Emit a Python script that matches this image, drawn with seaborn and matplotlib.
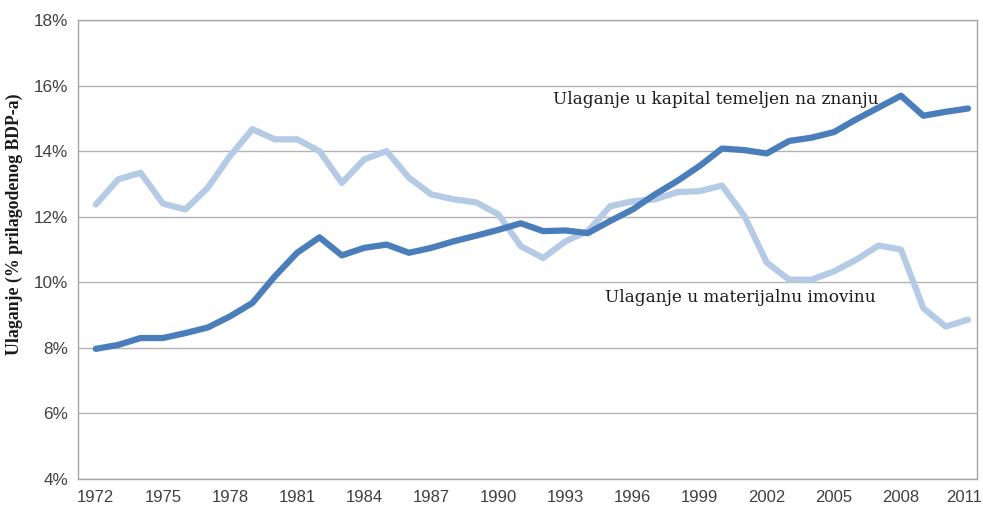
import numpy as np
import pandas as pd
import seaborn as sns
import matplotlib.pyplot as plt
import matplotlib.transforms as mtransforms
from matplotlib.ticker import FixedLocator, PercentFormatter

years = list(range(1972, 2012))

# ulaganje u kapital temeljen na znanju (% prilagodenog BDP-a)
knowledge = [7.97, 8.09, 8.30, 8.30, 8.45, 8.62, 8.96, 9.37, 10.18, 10.90,
             11.37, 10.82, 11.05, 11.15, 10.90, 11.05, 11.25, 11.42, 11.60, 11.80,
             11.56, 11.58, 11.50, 11.87, 12.22, 12.68, 13.09, 13.55, 14.08, 14.03,
             13.93, 14.31, 14.41, 14.58, 14.97, 15.33, 15.69, 15.08, 15.20, 15.30]

# ulaganje u materijalnu imovinu
tangible = [12.37, 13.14, 13.34, 12.40, 12.22, 12.88, 13.85, 14.67, 14.36, 14.36,
            14.00, 13.03, 13.75, 14.00, 13.19, 12.68, 12.53, 12.44, 12.07, 11.10,
            10.74, 11.25, 11.56, 12.32, 12.47, 12.53, 12.75, 12.78, 12.95, 12.02,
            10.60, 10.08, 10.08, 10.33, 10.69, 11.12, 11.00, 9.21, 8.65, 8.86]

label_knowledge = "Ulaganje u kapital temeljen na znanju"
label_tangible = "Ulaganje u materijalnu imovinu"

df = pd.DataFrame({
    "Godina": years * 2,
    "Vrijednost": knowledge + tangible,
    "Serija": [label_knowledge] * len(years) + [label_tangible] * len(years),
})

sns.set_style("white")

fig = plt.figure(figsize=(9.83, 5.07), dpi=100)
ax = fig.add_axes([0.0793, 0.0552, 0.9146, 0.9054])

sns.lineplot(
    data=df, x="Godina", y="Vrijednost", hue="Serija",
    palette={label_knowledge: "#4a7ebb", label_tangible: "#b5cbe5"},
    hue_order=[label_tangible, label_knowledge],
    linewidth=4.5, legend=False, ax=ax,
)

ax.set_xlim(1971.2, 2011.4)
ax.set_ylim(4, 18)
ax.set_yticks(np.arange(4, 19, 2))
ax.yaxis.set_major_formatter(PercentFormatter(decimals=0))
ax.set_xticks(list(range(1972, 2012, 3)))
ax.xaxis.set_minor_locator(FixedLocator(np.arange(1971.33, 2011.4, 1 / 3)))

ax.grid(axis="y", color="#b3b3b3", linewidth=1.0)
ax.set_axisbelow(True)
for s in ax.spines.values():
    s.set_color("#a6a6a6")
    s.set_linewidth(1.0)

ax.tick_params(axis="x", which="major", direction="in", length=4, color="#a6a6a6",
               pad=8, labelsize=12, labelcolor="#404040")
ax.tick_params(axis="x", which="minor", direction="in", length=2.5, color="#a6a6a6")
ax.tick_params(axis="y", length=0, pad=7, labelsize=12.3, labelcolor="#404040")
for t in ax.get_xticklabels() + ax.get_yticklabels():
    t.set_fontfamily("Liberation Sans")

# zadnja oznaka malo ulijevo da ne izlazi iz slike
last = ax.get_xticklabels()[-1]
last.set_transform(last.get_transform()
                   + mtransforms.ScaledTranslation(-4 / 100, 0, fig.dpi_scale_trans))

ax.set_xlabel("")
ax.set_ylabel("Ulaganje (% prilagodenog BDP-a)", fontsize=12.8, fontweight="bold",
              family="Liberation Serif", color="#1a1a1a")
ax.yaxis.set_label_coords(-0.061, 0.556)

ax.text(1992.45, 15.58, label_knowledge, fontsize=12.2, family="DejaVu Serif",
        color="#1a1a1a", va="center", ha="left")
ax.text(1994.77, 9.53, label_tangible, fontsize=12.2, family="DejaVu Serif",
        color="#1a1a1a", va="center", ha="left")

plt.savefig("out.png", dpi=100)
